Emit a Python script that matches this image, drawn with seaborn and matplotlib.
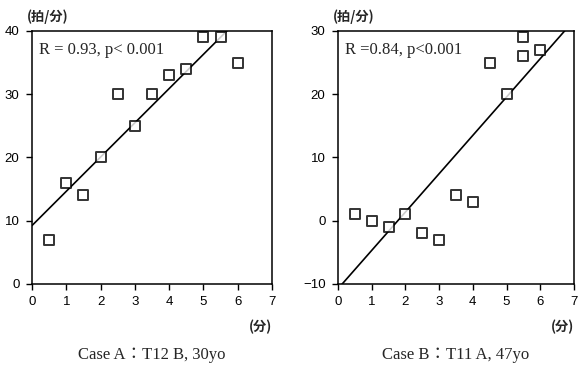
import matplotlib
matplotlib.use("Agg")
import matplotlib.pyplot as plt
import seaborn as sns
import pandas as pd

# Case A data (minutes vs. beats/min)
case_a_x = [0.5, 1, 1.5, 2, 2.5, 3, 3.5, 4, 4.5, 5, 5.5, 6]
case_a_y = [7, 16, 14, 20, 30, 25, 30, 33, 34, 39, 39, 35]

# Case B data
case_b_x = [0.5, 1, 1.5, 2, 2.5, 3, 3.5, 4, 4.5, 5, 5.5, 5.5, 6]
case_b_y = [1, 0, -1, 1, -2, -3, 4, 3, 25, 20, 26, 29, 27]

x_ticks = [0, 1, 2, 3, 4, 5, 6, 7]
a_yticks = [0, 10, 20, 30, 40]
b_yticks = [-10, 0, 10, 20, 30]

stats_a = "R = 0.93, p< 0.001"
stats_b = "R =0.84, p<0.001"
caption_a = "Case A：T12 B, 30yo"
caption_b = "Case B：T11 A, 47yo"

sns.set_style("ticks")
plt.rcParams['font.family'] = ['Liberation Sans', 'Noto Sans CJK JP', 'DejaVu Sans']
SERIF = ['Liberation Serif', 'Noto Sans CJK JP', 'DejaVu Serif']
CJK = ['Noto Sans CJK JP', 'DejaVu Sans']

fig = plt.figure(figsize=(5.79, 3.76), dpi=100)
ax_a = fig.add_axes([0.0553, 0.2447, 0.4145, 0.673])
ax_b = fig.add_axes([0.5838, 0.2447, 0.4075, 0.673])


def draw_panel(ax, xs, ys, yticks, stats, caption):
    df = pd.DataFrame({'x': xs, 'y': ys})
    ax.set_xlim(0, 7)
    ax.set_ylim(yticks[0], yticks[-1])
    sns.regplot(data=df, x='x', y='y', ax=ax, ci=None, truncate=False,
                marker='s',
                scatter_kws={'facecolors': 'white', 'edgecolors': 'black',
                             's': 60, 'linewidths': 1.4, 'zorder': 3},
                line_kws={'color': 'black', 'linewidth': 1.2})
    ax.set_xlim(0, 7)
    ax.set_ylim(yticks[0], yticks[-1])
    ax.set_xticks(x_ticks)
    ax.set_yticks(yticks)
    ax.set_xlabel('')
    ax.set_ylabel('')
    ax.tick_params(direction='out', length=4, width=1, labelsize=9.5,
                   color='black', labelcolor='black', pad=5)
    for s in ax.spines.values():
        s.set_visible(True)
        s.set_color('black')
        s.set_linewidth(1.1)
    ax.text(0.03, 0.925, stats, transform=ax.transAxes, family=SERIF,
            fontsize=12, va='center', ha='left')
    ax.text(-0.02, 1.055, '(拍/分)', transform=ax.transAxes, family=CJK,
            fontsize=9.5, fontweight='bold', va='center', ha='left')
    ax.text(1.0, -0.17, '(分)', transform=ax.transAxes, family=CJK,
            fontsize=9.5, fontweight='bold', va='center', ha='right')
    ax.text(0.5, -0.28, caption, transform=ax.transAxes, family=SERIF,
            fontsize=12, va='center', ha='center')


draw_panel(ax_a, case_a_x, case_a_y, a_yticks, stats_a, caption_a)
draw_panel(ax_b, case_b_x, case_b_y, b_yticks, stats_b, caption_b)

fig.savefig('out.png', dpi=100)
